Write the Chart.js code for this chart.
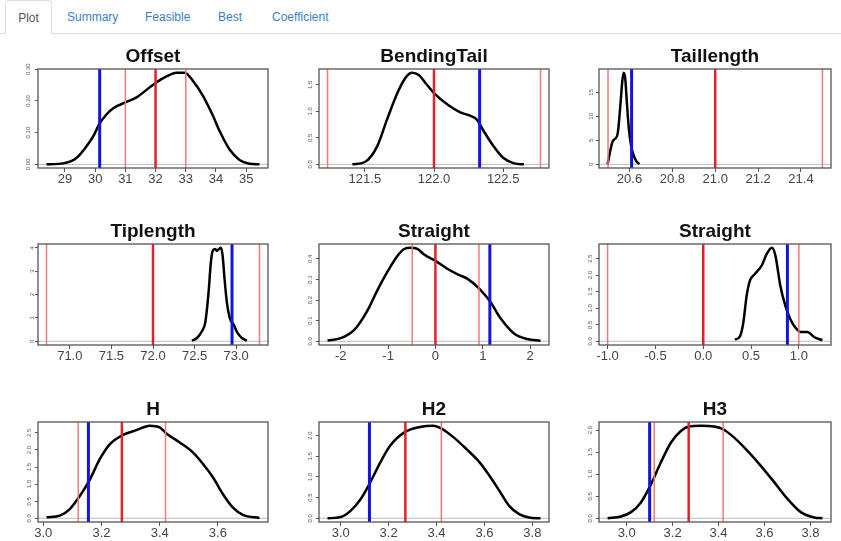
<!DOCTYPE html>
<html>
<head>
<meta charset="utf-8">
<script src="https://cdn.jsdelivr.net/npm/chart.js@4.4.1/dist/chart.umd.min.js"></script>
<style>
  body { margin: 0; width: 841px; height: 541px; overflow: hidden; position: relative; background: #fff;
         font-family: "Liberation Sans", Arial, sans-serif; }
  .tabline { position: absolute; left: 0; top: 33px; width: 841px; height: 1px; background: #ddd; }
  .tab { position: absolute; top: 10px; font-size: 12px; line-height: 14px; color: #3a7fc6; }
  .tab.active { left: 5px; top: 0; width: 45px; height: 33px; line-height: 34px; text-align: center; color: #555;
                background: #fff; border: 1px solid #ddd; border-bottom: none; border-radius: 4px 4px 0 0; }
  .panel { position: absolute; }
</style>
</head>
<body>
<div class="tabline"></div>
<div class="tab active">Plot</div>
<div class="tab" style="left:67px">Summary</div>
<div class="tab" style="left:145px">Feasible</div>
<div class="tab" style="left:218px">Best</div>
<div class="tab" style="left:272px">Coefficient</div>

<script>
// panel titles, row by row
const titles = ['Offset', 'BendingTail', 'Taillength', 'Tiplength', 'Straight', 'Straight', 'H', 'H2', 'H3'];

// density curves
const offsetX = [28.39, 28.94, 29.39, 29.72, 29.94, 30.13, 30.38, 30.6, 30.95, 31.37, 31.92, 32.36, 32.69, 32.96, 33.24, 33.57, 33.9, 34.12, 34.45, 34.78, 35.11, 35.44];
const offsetY = [0, 0.003, 0.021, 0.058, 0.089, 0.126, 0.158, 0.177, 0.193, 0.211, 0.251, 0.277, 0.289, 0.289, 0.263, 0.216, 0.153, 0.105, 0.047, 0.014, 0.002, 0];

const bendX = [121.41, 121.5, 121.59, 121.66, 121.74, 121.8, 121.84, 121.89, 121.94, 122.0, 122.1, 122.19, 122.26, 122.31, 122.36, 122.43, 122.5, 122.58, 122.65];
const bendY = [0, 0.044, 0.344, 0.844, 1.375, 1.656, 1.731, 1.688, 1.531, 1.344, 1.125, 0.981, 0.919, 0.844, 0.625, 0.344, 0.125, 0.019, 0];

const tailX = [20.498, 20.509, 20.52, 20.532, 20.545, 20.557, 20.567, 20.573, 20.58, 20.587, 20.597, 20.608, 20.62, 20.633, 20.646];
const tailY = [0, 2.5, 4.6, 5.3, 6.4, 12.0, 17.5, 19.1, 18.0, 13.5, 7.5, 3.8, 1.8, 0.6, 0.05];

const tipX = [72.468, 72.528, 72.588, 72.628, 72.668, 72.696, 72.72, 72.748, 72.768, 72.788, 72.816, 72.836, 72.86, 72.888, 72.928, 72.968, 73.016, 73.068, 73.128];
const tipY = [0.03, 0.14, 0.43, 0.8, 2.1, 3.4, 3.9, 3.96, 3.87, 3.94, 4.01, 3.7, 2.68, 1.67, 0.94, 0.72, 0.36, 0.14, 0.03];

const straightX = [-2.28, -2.0, -1.72, -1.44, -1.23, -1.01, -0.8, -0.66, -0.52, -0.38, -0.24, 0.01, 0.25, 0.47, 0.68, 0.92, 1.16, 1.38, 1.66, 1.94, 2.22];
const straightY = [0.003, 0.015, 0.054, 0.148, 0.246, 0.339, 0.415, 0.448, 0.454, 0.448, 0.421, 0.389, 0.352, 0.325, 0.303, 0.257, 0.192, 0.11, 0.038, 0.011, 0.003];

const straight2X = [0.331, 0.384, 0.419, 0.454, 0.489, 0.542, 0.613, 0.665, 0.718, 0.754, 0.806, 0.859, 0.912, 0.965, 1.018, 1.088, 1.158, 1.246];
const straight2Y = [0.05, 0.15, 0.56, 1.38, 1.84, 2.04, 2.3, 2.65, 2.83, 2.6, 1.68, 1.07, 0.66, 0.41, 0.28, 0.28, 0.13, 0.03];

const hX = [3.011, 3.057, 3.091, 3.126, 3.158, 3.194, 3.229, 3.274, 3.32, 3.366, 3.4, 3.425, 3.469, 3.514, 3.549, 3.583, 3.617, 3.651, 3.686, 3.743];
const hY = [0.03, 0.08, 0.27, 0.66, 1.1, 1.73, 2.17, 2.44, 2.58, 2.71, 2.66, 2.47, 2.22, 1.93, 1.59, 1.2, 0.71, 0.32, 0.1, 0.01];

const h2X = [2.945, 3.0, 3.041, 3.083, 3.12, 3.166, 3.207, 3.269, 3.331, 3.386, 3.421, 3.469, 3.524, 3.579, 3.621, 3.662, 3.703, 3.745, 3.786, 3.834];
const h2Y = [0, 0.03, 0.18, 0.46, 0.83, 1.36, 1.76, 2.09, 2.21, 2.24, 2.17, 1.97, 1.68, 1.36, 1.03, 0.67, 0.3, 0.1, 0.02, 0];

const h3X = [2.917, 2.975, 3.019, 3.062, 3.103, 3.149, 3.193, 3.236, 3.27, 3.323, 3.381, 3.42, 3.468, 3.526, 3.584, 3.642, 3.7, 3.758, 3.816, 3.852];
const h3Y = [0, 0.04, 0.14, 0.36, 0.74, 1.27, 1.72, 1.98, 2.08, 2.1, 2.08, 2.02, 1.83, 1.53, 1.19, 0.82, 0.44, 0.14, 0.02, 0];

// red reference lines (low, centre, high) and the blue marker
const redLines = [[31, 32, 33], [121.23, 122, 122.77], [20.5, 21, 21.5], [70.72, 72, 73.28], [-0.49, 0, 0.92],
                  [-1, 0, 1], [3.12, 3.27, 3.42], [3.12, 3.27, 3.42], [3.12, 3.27, 3.42]];
const blueLines = [30.15, 122.33, 20.61, 72.95, 1.15, 0.88, 3.155, 3.12, 3.1];

// tick labels
const xTickLabels = [
  ['29', '30', '31', '32', '33', '34', '35'],
  ['121.5', '122.0', '122.5'],
  ['20.6', '20.8', '21.0', '21.2', '21.4'],
  ['71.0', '71.5', '72.0', '72.5', '73.0'],
  ['-2', '-1', '0', '1', '2'],
  ['-1.0', '-0.5', '0.0', '0.5', '1.0'],
  ['3.0', '3.2', '3.4', '3.6'],
  ['3.0', '3.2', '3.4', '3.6', '3.8'],
  ['3.0', '3.2', '3.4', '3.6', '3.8']
];
const yTickLabels = [
  ['0.00', '0.10', '0.20', '0.30'],
  ['0.0', '0.5', '1.0', '1.5'],
  ['0', '5', '10', '15'],
  ['0', '1', '2', '3', '4'],
  ['0.0', '0.1', '0.2', '0.3', '0.4'],
  ['0.0', '0.5', '1.0', '1.5', '2.0', '2.5'],
  ['0.0', '0.5', '1.0', '1.5', '2.0', '2.5'],
  ['0.0', '0.5', '1.0', '1.5', '2.0'],
  ['0.0', '0.5', '1.0', '1.5', '2.0']
];

const curvesX = [offsetX, bendX, tailX, tipX, straightX, straight2X, hX, h2X, h3X];
const curvesY = [offsetY, bendY, tailY, tipY, straightY, straight2Y, hY, h2Y, h3Y];

// plot box geometry on the page
const boxLeft = [38, 319, 599], boxWidth = [230, 230, 232];
const boxTop = [69, 244, 422], boxHeight = [99, 101, 100];
const yAxisW = 30, titleH = 30, xAxisH = 24, rightPad = 4;

const tickFont = { family: '"Liberation Sans", Arial', size: 13 };

// draws the R style frame round the plot region
const boxFrame = {
  id: 'boxFrame',
  afterDatasetsDraw(chart) {
    const a = chart.chartArea, c = chart.ctx;
    c.save();
    c.strokeStyle = '#555';
    c.lineWidth = 1.3;
    c.strokeRect(a.left, a.top, a.right - a.left, a.bottom - a.top);
    c.restore();
  }
};

function vline(x, y0, y1, color, width) {
  return { data: [{ x: x, y: y0 }, { x: x, y: y1 }], borderColor: color, borderWidth: width, pointRadius: 0 };
}

for (let i = 0; i < 9; i++) {
  const row = Math.floor(i / 3), col = i % 3;
  const wrap = document.createElement('div');
  wrap.className = 'panel';
  const W = yAxisW + boxWidth[col] + rightPad;
  const H = titleH + boxHeight[row] + xAxisH;
  wrap.style.left = (boxLeft[col] - yAxisW) + 'px';
  wrap.style.top = (boxTop[row] - titleH) + 'px';
  const canvas = document.createElement('canvas');
  canvas.width = W;
  canvas.height = H;
  wrap.appendChild(canvas);
  document.body.appendChild(wrap);

  const xs = curvesX[i], ys = curvesY[i];
  const allX = xs.concat(redLines[i], [blueLines[i]]);
  const lo = Math.min(...allX), hi = Math.max(...allX);
  const xPad = (hi - lo) * 0.04;
  const peak = Math.max(...ys);
  const yMin = -0.04 * peak, yMax = 1.04 * peak;

  const datasets = [vline(blueLines[i], yMin, yMax, '#1414dc', 3)];
  redLines[i].forEach((v, k) => {
    datasets.push(k === 1 ? vline(v, yMin, yMax, '#e0222a', 2.5) : vline(v, yMin, yMax, '#f07a7a', 1.5));
  });
  datasets.push({
    data: xs.map((x, k) => ({ x: x, y: ys[k] })),
    borderColor: '#000', borderWidth: 2.5, pointRadius: 0, cubicInterpolationMode: 'monotone'
  });
  datasets.push({
    data: [{ x: lo - xPad, y: 0 }, { x: hi + xPad, y: 0 }],
    borderColor: '#bbb', borderWidth: 1, pointRadius: 0
  });

  new Chart(canvas.getContext('2d'), {
    type: 'line',
    data: { datasets: datasets },
    options: {
      responsive: false,
      animation: false,
      events: [],
      layout: { padding: { right: rightPad } },
      plugins: {
        legend: { display: false },
        tooltip: { enabled: false },
        title: {
          display: true, fullSize: false, text: titles[i], color: '#111',
          font: { family: '"Liberation Sans", Arial', size: 19, weight: 'bold', lineHeight: '20px' },
          padding: { top: 8, bottom: 2 }
        }
      },
      scales: {
        x: {
          type: 'linear', min: lo - xPad, max: hi + xPad,
          afterBuildTicks: ax => { ax.ticks = xTickLabels[i].map(s => ({ value: parseFloat(s) })); },
          afterFit: ax => { ax.height = xAxisH; },
          border: { display: false },
          grid: { drawOnChartArea: false, tickLength: 4, color: '#555' },
          ticks: { padding: 0, color: '#444', font: tickFont, maxRotation: 0, autoSkip: false,
                   callback: (v, k) => xTickLabels[i][k] }
        },
        y: {
          type: 'linear', min: yMin, max: yMax,
          afterBuildTicks: ax => { ax.ticks = yTickLabels[i].map(s => ({ value: parseFloat(s) })); },
          afterFit: ax => { ax.width = yAxisW; },
          border: { display: false },
          grid: { drawOnChartArea: false, tickLength: 3, color: '#555' },
          ticks: { padding: 1, color: '#555', font: { family: '"Liberation Sans", Arial', size: 6 },
                   minRotation: 90, maxRotation: 90, crossAlign: 'center', autoSkip: false,
                   callback: (v, k) => yTickLabels[i][k] }
        }
      }
    },
    plugins: [boxFrame]
  });
}
</script>
</body>
</html>
